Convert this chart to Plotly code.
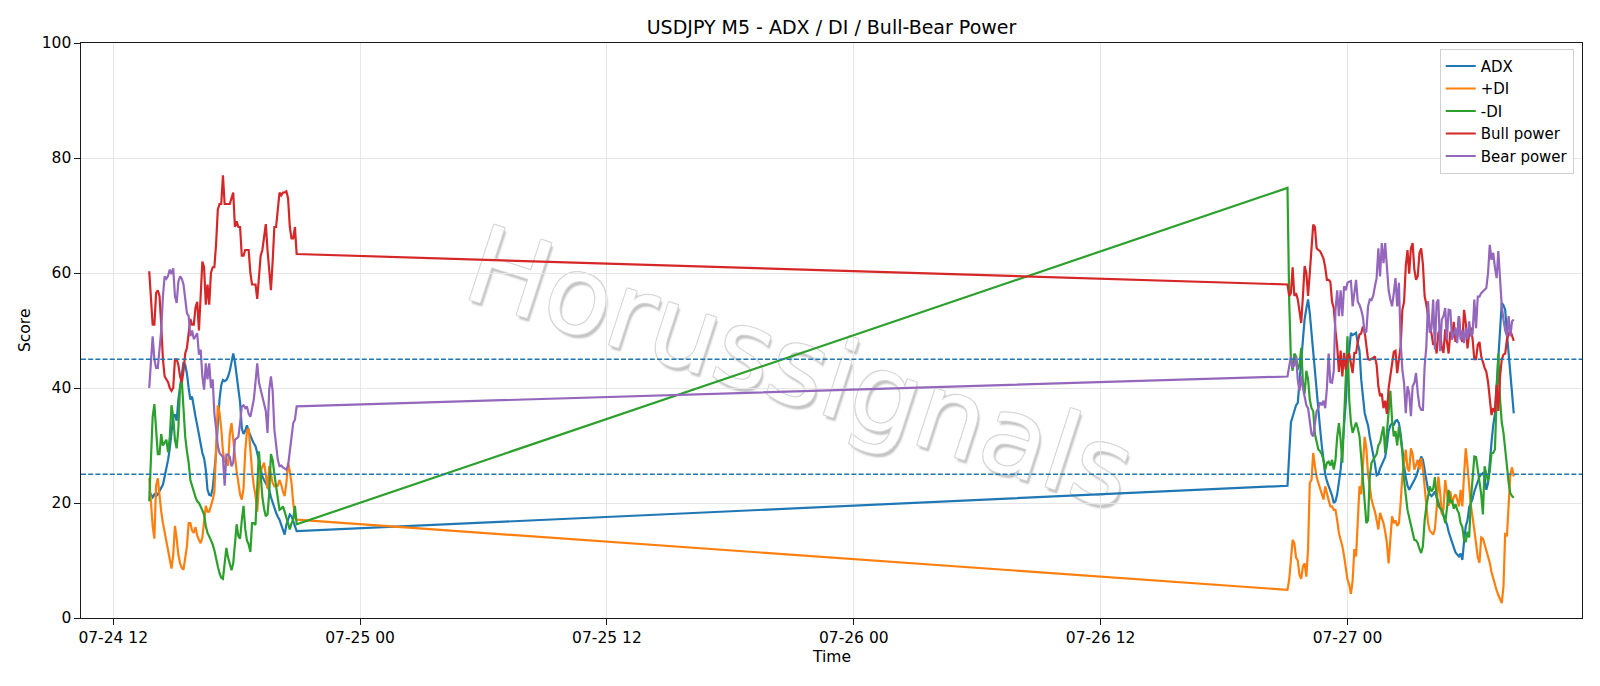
import pandas as pd
import plotly.graph_objects as go

TITLE = "USDJPY M5 - ADX / DI / Bull-Bear Power"
WATERMARK = "Horussignals"
SESSION_STARTS = ["2026-07-24 13:45", "2026-07-26 21:05"]
BAR_FREQ = "5min"
LEVELS = [25, 45]
X_RANGE = ["2026-07-24 10:26", "2026-07-27 11:24"]

# ---- session 1 (Fri 07-24) ----
ADX_L = [22, 21.5, 21, 21.5, 21.2, 21.5, 22, 22.5, 23.2, 24.6,
         26, 27.5, 29.5, 32, 35, 35.4, 34.3, 38, 40.5, 42.5,
         44.5, 44, 42.5, 40, 38, 38.5, 36.5, 35, 33.5, 32,
         29.9, 28.7, 27.8, 25.8, 22.3, 21.4, 21.3, 22.5, 25.5, 28.7,
         33.5, 38, 40.5, 41.4, 41.2, 41.4, 42, 43, 44.5, 46,
         44.5, 42, 40.5, 37.5, 33, 32, 32.6, 33.5, 32.5, 31.6,
         31, 30.4, 29.9, 28.7, 27.5, 26, 24.6, 24, 23.5, 23,
         22.3, 21, 20, 19, 18.3, 17.6, 17.1, 16.2, 15.4, 14.5,
         16.2, 17.2, 18, 17.7, 16.8, 16, 15.1]
PDI_L = [24.3, 20, 16, 13.8, 23, 24.3, 21, 18.5, 16.5, 15,
         13, 11.7, 10.1, 8.6, 11, 16, 13.8, 11, 9.5, 8.7,
         8.4, 10.5, 12.5, 16.5, 16.5, 15.2, 14.8, 15.8, 14.3, 13.6,
         13, 14, 16.5, 19.5, 18.5, 18.5, 19.5, 20.5, 22, 29.9,
         37, 35.7, 33, 29, 27, 27.5, 26.5, 32, 33.9, 31,
         28, 25.5, 23.5, 21.5, 20.6, 22.5, 29, 32.5, 33, 29,
         25.5, 23, 21.3, 18.5, 23, 25.5, 26.4, 27, 25, 22.5,
         26.4, 25, 23.5, 22.9, 22.9, 23, 24, 23.2, 22, 21.2,
         23.5, 27, 25.5, 23.5, 20, 17.5, 17.1]
MDI_L = [20.3, 28, 35, 37.2, 33, 28.5, 28.5, 32, 30, 30.5,
         31, 28.8, 31.5, 37, 35, 31, 29.5, 33, 40.3, 41.3,
         35.5, 31.5, 29, 27, 24, 23, 21.8, 21, 20.3, 20,
         19.4, 18.8, 18, 16, 14.8, 14.2, 13.6, 12.8, 11.8, 10.2,
         9, 7.8, 7, 6.8, 10, 12.2, 10.5, 9.5, 8.3, 9.5,
         12.5, 16.3, 14.2, 13.8, 17, 19.5, 15.5, 13.5, 12.8, 11.5,
         16.5, 16.5, 16.2, 21.5, 29, 25, 21, 19, 17.7, 18,
         21.7, 28.5, 27.5, 25, 23, 21.5, 18.8, 19, 19.4, 18.5,
         17.5, 16.5, 15.4, 16.5, 17.1, 19.5, 16.3]
BULL_L = [60.3, 55, 51, 51, 56.5, 57, 56, 51, 45, 42,
          41.5, 41, 40, 39.5, 40, 45, 45, 44, 42, 41,
          43, 46, 47, 50, 52, 51, 51, 54, 55, 50,
          56, 62, 61, 54.5, 58, 54.5, 60, 61, 61, 65,
          71, 72, 72, 77, 72, 72, 72, 72, 73, 74,
          68, 69, 68, 68, 63, 63, 64, 64, 64, 60,
          58, 58, 58, 55.5, 59, 63, 64, 66, 68.5, 64,
          60, 57, 62, 68, 68, 71, 74, 73.5, 74, 74,
          74.2, 73, 68, 66, 66, 68, 63.3]
BEAR_L = [40, 44, 49, 45, 43.5, 43.5, 47, 50, 56, 59.4,
          59, 59.5, 60.6, 59.8, 60.8, 56, 54.8, 58.5, 59.4, 59,
          58, 55, 53, 52.5, 49, 50, 48.5, 49, 49.5, 45.8,
          46.7, 42, 39.7, 44.3, 41.5, 44.3, 40, 41.5, 35.6, 33,
          30, 28.7, 28.4, 28, 23, 28.4, 28.4, 28, 26.4, 27,
          31, 31.3, 31.5, 33.9, 36.8, 37, 36.5, 36.8, 35.5, 35,
          36.5, 38, 41, 44.3, 41, 39.7, 38.5, 37, 36, 32.2,
          39.7, 42, 39.5, 32.8, 30, 27.5, 26.4, 26.5, 26.2, 26,
          25.8, 26.5, 29, 31.6, 33.9, 34.5, 36.8]

# ---- session 2 (Sun 07-26 evening -> Mon 07-27) ----
ADX_R = [23, 28, 34, 35, 36, 37, 37.4, 41, 46, 49,
         52, 53.8, 55.4, 53, 49.5, 45.5, 42, 38.5, 35.7, 33,
         30, 27.5, 25, 23.8, 23, 22.4, 21.3, 20, 20.3, 21.5,
         24, 25.8, 29.5, 33.5, 37.5, 43.5, 47, 49.6, 49.2, 49.4,
         49.6, 47.8, 46.5, 41.5, 38, 35.7, 34.5, 33.5, 31.5, 30,
         28.5, 26.8, 24.8, 25, 26, 26.6, 27.3, 28, 30, 32.5,
         33.5, 33.9, 33.5, 34.3, 34.4, 33.9, 32, 29, 26.5, 24.5,
         23, 22.3, 22.8, 23.3, 24, 24.6, 25.5, 27, 28.1, 27.5,
         26, 24, 22.3, 21.5, 21.2, 21.5, 22, 21, 20, 19.2,
         18.5, 17.8, 17.2, 16.3, 15, 14.2, 13.2, 12.3, 11.4, 11,
         10.7, 11.2, 10.1, 13.3, 16, 17, 19.3, 20, 20.8, 22,
         23, 24, 24.6, 25, 25.2, 24.5, 22.3, 23.5, 27.5, 30.5,
         33.5, 35.5, 40.5, 45, 51, 54.8, 54.4, 53.6, 49.5, 46,
         42.6, 39, 35.6]
PDI_R = [4.9, 6.7, 11, 13.6, 13, 10.5, 10, 7.5, 6.8, 9,
         9.5, 7.2, 12, 23.5, 24, 28.7, 26.4, 24.5, 23.5, 22.5,
         21.2, 20.6, 22.9, 21.5, 20.5, 19.4, 19.4, 18.8, 18.8, 17,
         14.8, 13.6, 12.5, 10.8, 8.5, 6.7, 5.8, 4.2, 6.5, 12,
         10.7, 16, 22.9, 21.5, 27, 31.5, 29.5, 25, 22.9, 20.6,
         19.5, 18.5, 17, 15.4, 18.3, 17.5, 16.5, 15, 13, 9.5,
         14, 17.7, 16.5, 17, 16, 16.5, 20, 24.6, 27, 29.3,
         26, 25.5, 29.5, 28.5, 25.8, 26.5, 27.5, 25.8, 27.8, 26,
         23, 18.8, 16.5, 15.2, 14.8, 14.5, 15.5, 19, 24.6, 22,
         18, 19, 24, 22, 19.5, 22, 19.8, 21, 21.5, 20.6,
         19.4, 22.3, 19.4, 25, 29.5, 26.4, 22.5, 19.5, 17.5, 15.5,
         13, 10.5, 9.6, 14, 13.8, 12.8, 11.8, 11, 9.6, 8,
         6.8, 5.5, 4.8, 4, 3.2, 2.6, 5.5, 14.8, 14.2, 19,
         25, 26.2, 24.6]
MDI_R = [74.8, 55, 45, 43, 46, 45.5, 43.2, 44, 47, 41,
         39, 43, 41.5, 38, 36.5, 36, 32, 30.5, 29.3, 29,
         28.5, 27.5, 25.8, 27, 27.2, 26.5, 27.5, 25.8, 27.5, 31.5,
         33.9, 31, 27, 34.5, 42, 49, 38, 34, 32.2, 33.3,
         34, 33, 31.6, 28, 24.5, 21, 16.5, 17, 24.6, 27,
         27.5, 28, 28.5, 30, 30.5, 32, 33.3, 28.7, 32.2, 36.2,
         39.5, 34.5, 31.6, 32.5, 30, 33.3, 31.5, 29, 24, 21.5,
         18.8, 17.5, 16, 14.8, 13.6, 13.5, 13, 12, 11.3, 12.5,
         17, 19.4, 21, 22.9, 22, 22.5, 24.5, 21, 19.5, 19.2,
         18.8, 18, 16.5, 19, 22.3, 20, 20.5, 19, 19.8, 18.8,
         18.2, 16.5, 15.8, 13.6, 13.2, 15, 14, 20.6, 24.1, 28.1,
         28, 26, 23.5, 21.5, 18, 26.4, 25, 23.8, 25.5, 28.7,
         28.7, 29.3, 38, 46, 38, 34, 32.2, 28.7, 26.5, 23.5,
         21.7, 21.2, 20.9]
BULL_R = [58, 56, 56.5, 61, 56, 56.5, 55.4, 53, 51.3, 56,
          61.2, 60, 56, 60, 64, 68.4, 68, 64.3, 64, 63.8,
          63.2, 62.5, 61, 58.8, 58.8, 58.5, 55, 53.9, 50, 47.2,
          42.8, 46.5, 42, 46.1, 43.2, 45.5, 46, 44, 42.6, 46.1,
          46.1, 48, 49.3, 49.5, 50.7, 49.8, 47, 45, 44.9, 45,
          45.2, 45.5, 44, 40.3, 38.6, 39, 36.5, 37.8, 35.5, 40,
          42, 44, 46.3, 46.5, 42.6, 45, 47.2, 53.6, 55, 61.2,
          64, 59.9, 64.3, 65.2, 60.6, 58.8, 59.5, 63.5, 64.3, 61.5,
          56, 54.5, 52, 50.5, 49.5, 47.5, 48, 46, 49.6, 50,
          47, 46.1, 50.2, 47.8, 46, 49.8, 48.8, 51.5, 48, 49,
          52.5, 49, 48, 53.6, 51.3, 46.9, 49.5, 50.5, 48.4, 45,
          45, 47.5, 48, 45.5, 44.3, 43.5, 42.8, 41, 38.2, 35.3,
          36.5, 35.8, 40.5, 36, 42, 45, 45.8, 46, 48.4, 49.5,
          50, 49, 48.2]
BEAR_R = [42, 43.8, 45.5, 43.5, 44, 45.5, 41.4, 39.5, 42, 40,
          38.5, 37, 36.5, 34, 32, 31.6, 34, 36, 36.5, 37.5,
          37, 37.8, 36.5, 40, 46, 41, 40.9, 43, 53.6, 57,
          52.5, 57, 52.5, 57.7, 57, 58.3, 58.5, 58.6, 54.2, 57,
          58.8, 55, 54.5, 53.6, 52.3, 49.6, 49.8, 54.2, 55.4, 55.3,
          56, 57.7, 59.1, 64.3, 59.4, 65.2, 61.7, 65.2, 60.3, 57,
          55.4, 54.2, 56.5, 59.1, 54.2, 58.3, 48, 43.2, 40.9, 35.6,
          40.3, 39.1, 35.1, 40.3, 40.9, 42.6, 39.1, 36.8, 36.2, 36.2,
          43.8, 47.2, 55.1, 49.6, 50.4, 55.4, 46.7, 54.8, 55.4, 46.4,
          51.9, 52.5, 53.9, 48.4, 53.6, 53.5, 48.4, 49.6, 50.5, 47.8,
          52.5, 48.4, 50, 47.8, 50.5, 48.5, 51.6, 49, 49.5, 55.4,
          50.4, 55.9, 55.9, 56.5, 56.8, 57.1, 57.4, 60, 64.9, 62.3,
          63.5, 61, 59.1, 63.8, 59.1, 54.2, 51.9, 50, 49, 52.5,
          49, 51.6, 51.9]

SERIES = [
    ("ADX", ADX_L, ADX_R, "#1f77b4"),
    ("+DI", PDI_L, PDI_R, "#ff7f0e"),
    ("-DI", MDI_L, MDI_R, "#2ca02c"),
    ("Bull power", BULL_L, BULL_R, "#d62728"),
    ("Bear power", BEAR_L, BEAR_R, "#9467bd"),
]

FONT = "DejaVu Sans"

times = (list(pd.date_range(SESSION_STARTS[0], periods=len(ADX_L), freq=BAR_FREQ))
         + list(pd.date_range(SESSION_STARTS[1], periods=len(ADX_R), freq=BAR_FREQ)))

fig = go.Figure()
for name, left, right, color in SERIES:
    fig.add_trace(go.Scatter(x=times, y=list(left) + list(right), mode="lines", name=name,
                             line=dict(color=color, width=2.2)))

for lvl in LEVELS:
    fig.add_shape(type="line", xref="paper", x0=0, x1=1, yref="y", y0=lvl, y1=lvl,
                  line=dict(color="#1f77b4", width=1.3, dash="5px,2.2px"), layer="above")

shadow = ("-1px -1px 0 #d6d6d6, 1px -1px 0 #d6d6d6, -1px 1px 0 #d6d6d6, 1px 1px 0 #d0d0d0, "
          "3px 3px 2px #c2c2c2")
wm_done = False
try:
    fig.add_shape(type="rect", xref="paper", yref="paper", x0=0.471, x1=0.491, y0=0.439, y1=0.459,
                  line=dict(width=0), fillcolor="rgba(0,0,0,0)", layer="below",
                  label=dict(text=WATERMARK, textangle=18, textposition="middle center",
                             font=dict(family=FONT, size=108, color="white", shadow=shadow)))
    wm_done = True
except Exception:
    wm_done = False
if not wm_done:
    fig.add_annotation(text=WATERMARK, xref="paper", yref="paper", x=0.481, y=0.449,
                       showarrow=False, textangle=18,
                       font=dict(family=FONT, size=108, color="white", shadow=shadow))

fig.add_annotation(text="Time", xref="paper", yref="paper", x=0.5, y=0, yshift=-39,
                   showarrow=False, yanchor="middle", font=dict(family=FONT, size=15.5, color="black"))
fig.add_annotation(text="Score", xref="paper", yref="paper", x=0, y=0.5, xshift=-56.5,
                   showarrow=False, textangle=-90, xanchor="center",
                   font=dict(family=FONT, size=15.5, color="black"))

axis_common = dict(showline=True, mirror=True, linecolor="#1a1a1a", linewidth=1.3,
                   ticks="outside", ticklen=5.5, tickwidth=1.2, tickcolor="#1a1a1a",
                   showgrid=True, gridcolor="#e6e6e6", gridwidth=1, zeroline=False,
                   tickfont=dict(family=FONT, size=15.5, color="black"))

fig.update_layout(
    width=1600, height=686,
    margin=dict(l=81, r=18, t=43, b=68),
    paper_bgcolor="white", plot_bgcolor="white",
    font=dict(family=FONT, size=15.5, color="black"),
    title=dict(text=TITLE, x=0.5, xref="paper", y=1 - 27 / 686, yref="container",
               xanchor="center", yanchor="middle", font=dict(family=FONT, size=19, color="black")),
    xaxis=dict(type="date", range=X_RANGE, tickformat="%m-%d %H",
               tick0="2026-07-24 00:00", dtick=12 * 3600 * 1000, **axis_common),
    yaxis=dict(range=[0, 100], dtick=20, tick0=0, **axis_common),
    legend=dict(x=0.9945, xanchor="right", y=0.99, yanchor="top",
                bgcolor="rgba(255,255,255,0.85)", bordercolor="#d0d0d0", borderwidth=1,
                font=dict(family=FONT, size=15, color="black"), tracegroupgap=0),
    showlegend=True,
)

fig.write_html("out.html")
